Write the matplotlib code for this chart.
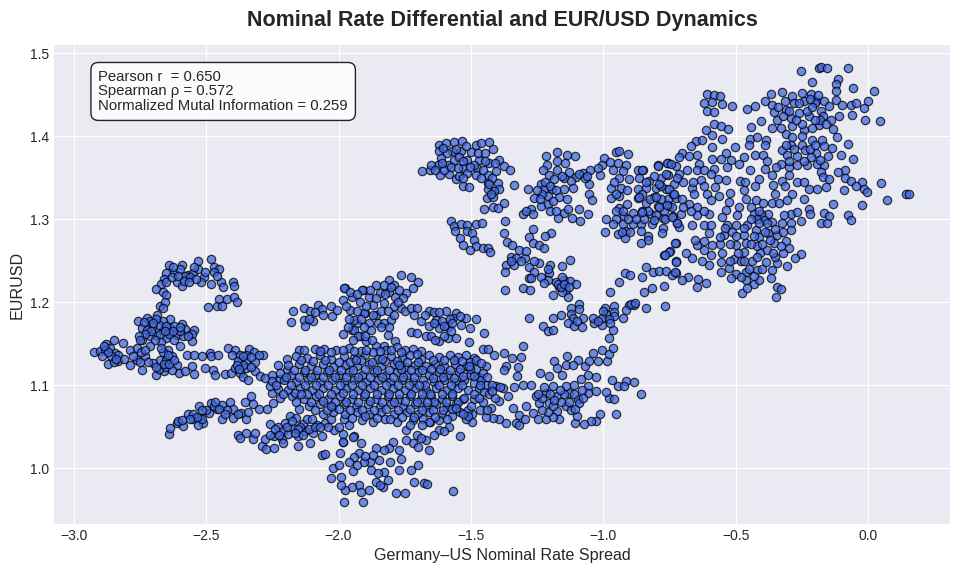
import matplotlib
matplotlib.use("Agg")
import matplotlib.pyplot as plt

# values, grouped by visible cluster: (spread, eurusd)
top_arc = [(-2.64,1.245),(-2.59,1.245),(-2.53,1.25),(-2.48,1.252),(-2.65,1.235),(-2.62,1.235),(-2.60,1.24),(-2.57,1.233),
    (-2.55,1.235),(-2.53,1.24),(-2.51,1.23),(-2.47,1.243),(-2.45,1.24),(-2.47,1.237),(-2.66,1.228),(-2.67,1.222),
    (-2.69,1.216),(-2.665,1.212),(-2.65,1.209),(-2.65,1.224),(-2.61,1.225),(-2.59,1.22),(-2.52,1.225),(-2.48,1.222),
    (-2.445,1.225),(-2.435,1.218),(-2.40,1.225),(-2.395,1.22),(-2.58,1.232),(-2.56,1.23),(-2.63,1.23),(-2.605,1.232),
    (-2.585,1.226),(-2.54,1.228),(-2.565,1.224),(-2.505,1.236),(-2.46,1.232),(-2.625,1.242),(-2.545,1.242),
    (-2.494,1.194),(-2.458,1.195),(-2.45,1.204),(-2.44,1.196),(-2.42,1.204),(-2.394,1.207),(-2.384,1.201)]
west_upper = [(-2.673,1.195),(-2.655,1.2),(-2.662,1.193),(-2.684,1.185),(-2.757,1.178),(-2.725,1.181),(-2.713,1.177),
    (-2.637,1.18),(-2.662,1.177),(-2.593,1.174),(-2.744,1.169),(-2.725,1.167),(-2.70,1.171),(-2.662,1.167),(-2.637,1.169),
    (-2.612,1.161),(-2.58,1.168),(-2.545,1.167),(-2.555,1.162),(-2.587,1.159),(-2.555,1.154),(-2.65,1.157),(-2.688,1.161),
    (-2.713,1.159),(-2.744,1.155),(-2.68,1.173),(-2.62,1.172),(-2.64,1.162),(-2.67,1.152),(-2.71,1.166),(-2.60,1.165),
    (-2.735,1.176),(-2.69,1.18),(-2.65,1.172),(-2.625,1.165),(-2.675,1.162),(-2.695,1.155),(-2.73,1.162),(-2.6,1.17),
    (-2.57,1.16),(-2.62,1.155),(-2.655,1.165),(-2.7,1.175),(-2.755,1.16)]
west_lower = [(-2.923,1.14),(-2.902,1.141),(-2.879,1.15),(-2.849,1.155),(-2.814,1.151),(-2.883,1.143),(-2.864,1.145),
    (-2.845,1.139),(-2.832,1.137),(-2.87,1.126),(-2.832,1.129),(-2.788,1.143),(-2.788,1.124),(-2.763,1.145),(-2.75,1.155),
    (-2.744,1.119),(-2.732,1.135),(-2.763,1.13),(-2.713,1.147),(-2.688,1.113),(-2.66,1.117),(-2.644,1.143),(-2.675,1.131),
    (-2.70,1.127),(-2.65,1.131),(-2.612,1.124),(-2.6,1.148),(-2.602,1.115),(-2.58,1.117),(-2.545,1.114),(-2.555,1.123),
    (-2.895,1.135),(-2.86,1.135),(-2.85,1.128),(-2.81,1.132),(-2.775,1.135),(-2.745,1.14),(-2.72,1.128),(-2.68,1.12),
    (-2.65,1.122),(-2.63,1.135),(-2.665,1.14),(-2.63,1.118),(-2.87,1.14),(-2.84,1.132),(-2.75,1.128),(-2.73,1.143),
    (-2.69,1.122),(-2.66,1.126),(-2.64,1.126),(-2.62,1.13),(-2.67,1.145),(-2.645,1.136),(-2.885,1.148),
    (-2.572,1.136),(-2.547,1.137),(-2.515,1.135),(-2.486,1.139),(-2.482,1.135),(-2.455,1.136),(-2.505,1.121),(-2.474,1.118),
    (-2.467,1.113),(-2.43,1.114),(-2.407,1.115)]
west_patch = [(-2.417,1.145),(-2.392,1.143),(-2.338,1.144),(-2.32,1.14),(-2.285,1.137),(-2.30,1.136),(-2.404,1.137),
    (-2.373,1.137),(-2.348,1.137),(-2.379,1.129),(-2.348,1.129),(-2.316,1.128),(-2.393,1.121),(-2.348,1.121),(-2.373,1.115),
    (-2.36,1.11),(-2.341,1.107),(-2.316,1.117),(-2.297,1.111),(-2.278,1.109),(-2.36,1.125),(-2.33,1.122),(-2.36,1.135),
    (-2.385,1.125),(-2.33,1.134),(-2.375,1.12),(-2.25,1.112),(-2.22,1.108)]
south_band = [(-2.641,1.041),(-2.635,1.049),(-2.612,1.055),(-2.587,1.051),(-2.606,1.057),(-2.568,1.065),(-2.549,1.059),
    (-2.524,1.061),(-2.511,1.055),(-2.526,1.075),(-2.49,1.067),(-2.482,1.079),(-2.442,1.076),(-2.41,1.08),(-2.442,1.06),
    (-2.4,1.061),(-2.40,1.071),(-2.348,1.06),(-2.367,1.067),(-2.342,1.068),(-2.354,1.08),(-2.329,1.087),(-2.322,1.077),
    (-2.3,1.071),(-2.272,1.072),(-2.46,1.071),(-2.55,1.066),(-2.59,1.058),(-2.53,1.052),(-2.47,1.075),(-2.42,1.07),
    (-2.516,1.06),(-2.465,1.08),(-2.38,1.065),(-2.535,1.062),(-2.5,1.07),(-2.515,1.07),(-2.45,1.072),(-2.43,1.066),(-2.56,1.06)]
south_patch = [(-2.379,1.04),(-2.351,1.043),(-2.373,1.036),(-2.322,1.035),(-2.314,1.043),(-2.291,1.027),(-2.275,1.023),
    (-2.244,1.024),(-2.278,1.035),(-2.244,1.039),(-2.215,1.035),(-2.209,1.031),(-2.259,1.053),(-2.228,1.05),(-2.203,1.055),
    (-2.184,1.063),(-2.159,1.061),(-2.171,1.049),(-2.152,1.039),(-2.127,1.045),(-2.096,1.043),(-2.108,1.031),(-2.155,1.027),
    (-2.064,1.039),(-2.08,1.052),(-2.016,1.046),(-1.985,1.041),(-1.985,1.032),(-1.94,1.039),(-2.064,1.016),(-2.05,1.017),
    (-1.995,1.018),(-2.134,1.053),(-2.12,1.059),(-2.21,1.045),(-2.19,1.042),(-2.26,1.04),(-2.145,1.05),(-2.11,1.048),
    (-2.10,1.06),(-2.05,1.055),(-2.03,1.06),(-1.96,1.052),(-2.195,1.05),(-2.175,1.057),(-2.24,1.047),(-2.155,1.047),
    (-2.135,1.04),(-2.165,1.043),(-2.09,1.05),(-2.225,1.04),(-2.07,1.05),(-2.04,1.05),(-2.0,1.05),(-1.98,1.06)]
north_mid = [(-2.171,1.19),(-2.18,1.176),(-2.131,1.193),(-2.131,1.179),(-2.125,1.172),(-2.108,1.189),(-2.077,1.197),
    (-2.064,1.192),(-2.096,1.178),(-2.029,1.196),(-2.026,1.184),(-2.005,1.191),(-1.975,1.217),(-1.982,1.203),(-1.95,1.207),
    (-1.906,1.215),(-1.9,1.187),(-1.957,1.191),(-1.93,1.175),(-1.982,1.162),(-1.95,1.167),(-1.918,1.159),(-2.09,1.188),
    (-1.764,1.233),(-1.726,1.23),(-1.701,1.225),(-1.718,1.217),(-1.809,1.227),(-1.859,1.221),(-1.827,1.221),(-1.789,1.221),
    (-1.745,1.211),(-1.911,1.215),(-1.98,1.217),(-1.886,1.207),(-1.842,1.211),(-1.786,1.207),(-1.829,1.199),(-1.764,1.193),
    (-1.871,1.197),(-1.902,1.187),(-1.94,1.179),(-1.859,1.185),(-1.802,1.179),(-1.886,1.175),(-1.94,1.167),(-1.925,1.159),
    (-1.878,1.167),(-1.812,1.161),(-1.785,1.153),(-1.859,1.147),(-1.827,1.148),(-1.897,1.153),(-1.92,1.2),(-1.88,1.215),
    (-1.81,1.212),(-1.79,1.195),(-1.84,1.19),(-1.77,1.215),(-1.93,1.19),(-1.96,1.18),(-1.905,1.17),(-1.85,1.175),
    (-1.755,1.205),(-1.75,1.19),(-1.83,1.175),(-1.955,1.213),(-1.93,1.21),(-1.895,1.195),(-1.86,1.205),(-1.825,1.21),
    (-1.8,1.218),(-1.775,1.2),(-1.815,1.19),(-1.97,1.195),(-1.965,1.17),(-1.915,1.18),(-1.87,1.185),(-1.84,1.17),
    (-1.9,1.16),(-1.945,1.155),(-1.875,1.155),(-1.81,1.17),(-1.79,1.185),(-2.11,1.18),(-2.06,1.185)]
north_east = [(-1.727,1.193),(-1.702,1.193),(-1.657,1.189),(-1.594,1.189),(-1.557,1.187),(-1.715,1.185),(-1.69,1.177),
    (-1.632,1.179),(-1.569,1.181),(-1.519,1.181),(-1.479,1.18),(-1.538,1.173),(-1.503,1.169),(-1.45,1.163),(-1.62,1.169),
    (-1.588,1.17),(-1.727,1.164),(-1.702,1.163),(-1.67,1.159),(-1.62,1.153),(-1.588,1.157),(-1.557,1.157),(-1.506,1.152),
    (-1.657,1.171),(-1.64,1.188),(-1.61,1.178),(-1.58,1.18),(-1.65,1.16),(-1.60,1.16),(-1.675,1.185),(-1.62,1.188),
    (-1.6,1.172),(-1.64,1.175),(-1.575,1.165),(-1.635,1.155),(-1.54,1.183),(-1.57,1.175)]
core_rows = [(-2.228,1.124),(-2.193,1.132),(-2.193,1.119),(-2.149,1.142),(-2.089,1.144),(-2.054,1.144),(-2.253,1.091),
    (-2.247,1.079),(-2.26,1.099),(-2.149,1.071),(-2.01,1.143),(-1.96,1.145),(-1.915,1.141),(-1.87,1.14),(-1.82,1.143),
    (-1.78,1.146),(-1.75,1.142),(-1.72,1.144),(-1.69,1.141),
    (-2.16,1.135),(-2.12,1.133),(-2.07,1.136),(-2.03,1.132),(-1.98,1.135),(-1.94,1.133),(-1.90,1.136),(-1.85,1.132),
    (-1.80,1.135),(-1.76,1.133),(-1.73,1.136),(-1.69,1.132),(-1.66,1.137),(-1.62,1.134),(-1.58,1.137),(-1.55,1.134),
    (-1.52,1.136),(-1.49,1.133),
    (-2.19,1.124),(-2.15,1.126),(-2.105,1.123),(-2.06,1.126),(-2.02,1.122),(-1.975,1.125),(-1.93,1.123),(-1.885,1.126),
    (-1.84,1.123),(-1.79,1.126),(-1.75,1.122),(-1.71,1.125),(-1.67,1.123),(-1.635,1.126),(-1.60,1.123),(-1.56,1.126),
    (-1.52,1.123),(-1.48,1.12),
    (-2.22,1.115),(-2.18,1.113),(-2.13,1.116),(-2.09,1.113),(-2.045,1.116),(-2.0,1.113),(-1.96,1.116),(-1.91,1.113),
    (-1.865,1.116),(-1.82,1.113),(-1.78,1.116),(-1.74,1.113),(-1.70,1.116),(-1.66,1.113),(-1.62,1.116),(-1.585,1.113),
    (-1.545,1.116),(-1.505,1.113),(-1.47,1.11),
    (-2.25,1.105),(-2.205,1.107),(-2.16,1.104),(-2.115,1.107),(-2.07,1.104),(-2.025,1.107),(-1.98,1.104),(-1.94,1.107),
    (-1.895,1.104),(-1.85,1.107),(-1.805,1.104),(-1.76,1.107),(-1.72,1.104),(-1.68,1.107),(-1.64,1.104),(-1.60,1.107),
    (-1.56,1.104),(-1.525,1.107),(-1.49,1.103),(-1.46,1.106),
    (-2.23,1.096),(-2.19,1.094),(-2.145,1.097),(-2.10,1.094),(-2.06,1.097),(-2.015,1.094),(-1.97,1.097),(-1.925,1.094),
    (-1.88,1.097),(-1.84,1.094),(-1.795,1.097),(-1.75,1.094),(-1.71,1.097),(-1.67,1.094),(-1.63,1.097),(-1.59,1.094),
    (-1.55,1.097),(-1.51,1.094),(-1.47,1.097),
    (-2.22,1.085),(-2.175,1.087),(-2.13,1.084),(-2.085,1.087),(-2.04,1.084),(-1.995,1.087),(-1.95,1.084),(-1.905,1.087),
    (-1.86,1.084),(-1.815,1.087),(-1.77,1.084),(-1.73,1.087),(-1.69,1.084),(-1.65,1.087),(-1.61,1.084),(-1.57,1.087),
    (-1.53,1.084),
    (-2.11,1.075),(-2.07,1.077),(-2.025,1.074),(-1.98,1.077),(-1.935,1.074),(-1.89,1.077),(-1.845,1.074),(-1.80,1.077),
    (-1.755,1.074),(-1.71,1.077),(-1.67,1.074),(-1.63,1.077),(-1.59,1.074),(-1.555,1.077),
    (-2.06,1.066),(-2.02,1.068),(-1.975,1.065),(-1.93,1.068),(-1.885,1.065),(-1.84,1.068),(-1.79,1.065),(-1.74,1.068),
    (-1.70,1.065),(-1.66,1.068),(-1.61,1.066),(-1.57,1.063),(-1.54,1.068),
    (-1.91,1.058),(-1.87,1.056),(-1.825,1.059),(-1.78,1.056),(-1.72,1.058),(-1.655,1.056),(-1.62,1.058)]
core_fill = [(-2.13,1.142),(-2.07,1.141),(-2.03,1.14),(-1.985,1.143),(-1.94,1.141),(-1.895,1.143),(-1.845,1.141),(-1.8,1.142),
    (-1.765,1.14),(-1.705,1.138),(-1.645,1.131),(-1.6,1.13),(-1.565,1.13),(-1.535,1.129),(-1.505,1.128),
    (-2.14,1.13),(-2.095,1.129),(-2.05,1.13),(-2.0,1.128),(-1.955,1.128),(-1.915,1.13),(-1.875,1.128),(-1.825,1.129),
    (-1.78,1.129),(-1.74,1.128),(-1.7,1.128),(-1.65,1.12),(-1.615,1.12),(-1.58,1.118),(-1.54,1.12),(-1.505,1.12),
    (-2.17,1.118),(-2.125,1.119),(-2.08,1.118),(-2.035,1.119),(-1.99,1.119),(-1.945,1.118),(-1.9,1.12),(-1.855,1.119),
    (-1.81,1.118),(-1.765,1.12),(-1.725,1.118),(-1.685,1.119),(-1.645,1.109),(-1.605,1.11),(-1.565,1.109),(-1.53,1.111),
    (-2.2,1.11),(-2.15,1.11),(-2.105,1.11),(-2.06,1.11),(-2.015,1.11),(-1.97,1.11),(-1.925,1.11),(-1.88,1.11),
    (-1.835,1.11),(-1.795,1.11),(-1.755,1.11),(-1.715,1.11),(-1.675,1.1),(-1.62,1.1),(-1.575,1.1),(-1.535,1.1),
    (-2.235,1.101),(-2.18,1.1),(-2.125,1.101),(-2.085,1.1),(-2.04,1.101),(-1.995,1.1),(-1.95,1.1),(-1.91,1.1),
    (-1.865,1.101),(-1.82,1.1),(-1.775,1.1),(-1.735,1.1),(-1.695,1.1),(-1.655,1.09),(-1.61,1.09),(-1.57,1.09),
    (-2.21,1.09),(-2.165,1.091),(-2.12,1.09),(-2.075,1.09),(-2.03,1.09),(-1.985,1.091),(-1.945,1.09),(-1.9,1.09),
    (-1.855,1.09),(-1.81,1.09),(-1.77,1.09),(-1.725,1.09),(-1.685,1.09),(-1.64,1.08),(-1.595,1.08),(-1.55,1.08),
    (-2.16,1.08),(-2.105,1.08),(-2.06,1.081),(-2.015,1.08),(-1.97,1.08),(-1.925,1.08),(-1.88,1.081),(-1.835,1.08),
    (-1.79,1.08),(-1.75,1.081),(-1.705,1.08),(-1.665,1.08),(-1.645,1.07),(-1.605,1.07),(-1.57,1.071),
    (-2.09,1.07),(-2.045,1.07),(-2.0,1.071),(-1.955,1.07),(-1.91,1.07),(-1.865,1.07),(-1.82,1.071),(-1.775,1.07),
    (-1.73,1.071),(-1.685,1.07),(-1.95,1.061),(-1.9,1.063),(-1.855,1.061),(-1.805,1.06),(-1.76,1.062),(-1.715,1.062),
    (-1.68,1.06),(-1.635,1.062),(-1.59,1.06),(-2.03,1.075),(-2.14,1.09),(-1.935,1.13),(-1.835,1.132),(-1.77,1.125)]
core_east = [(-1.456,1.144),(-1.437,1.144),(-1.414,1.136),(-1.374,1.139),(-1.346,1.133),(-1.368,1.123),(-1.374,1.118),
    (-1.302,1.147),(-1.311,1.134),(-1.321,1.122),(-1.324,1.111),(-1.336,1.098),(-1.305,1.1),(-1.273,1.101),(-1.238,1.115),
    (-1.204,1.111),(-1.185,1.129),(-1.176,1.121),(-1.137,1.135),(-1.141,1.124),(-1.097,1.131),(-1.116,1.124),(-1.069,1.123),
    (-1.053,1.129),(-1.04,1.139),(-1.006,1.143),(-0.984,1.129),(-0.977,1.138),(-0.965,1.145),(-1.021,1.129),(-1.154,1.113),
    (-1.084,1.108),(-1.057,1.112),(-1.028,1.11),(-0.968,1.107),(-0.914,1.105),(-0.883,1.104),(-0.858,1.09),(-0.952,1.065),
    (-0.977,1.085),(-0.958,1.084),(-0.99,1.092),(-0.946,1.099),(-0.92,1.099),(-1.011,1.066),(-1.028,1.057),(-1.047,1.057),
    (-1.072,1.054),(-1.107,1.055),(-1.1,1.063),(-1.254,1.087),(-1.217,1.091),(-1.191,1.099),(-1.173,1.087),(-1.128,1.091),
    (-1.097,1.083),(-1.059,1.099),(-1.059,1.091),(-1.267,1.067),(-1.242,1.079),(-1.204,1.079),(-1.173,1.069),(-1.141,1.075),
    (-1.09,1.079),(-1.141,1.099),(-1.028,1.093),(-1.248,1.06),(-1.217,1.059),(-1.167,1.06),(-1.19,1.062),(-1.292,1.075),
    (-1.342,1.073),(-1.317,1.064),(-1.33,1.055),(-1.32,1.052),(-1.295,1.059),(-1.368,1.055),(-1.393,1.059),(-1.418,1.061),
    (-1.443,1.062),(-1.496,1.056),(-1.519,1.059),(-1.494,1.065),(-1.557,1.073),(-1.525,1.085),(-1.487,1.083),(-1.443,1.101),
    (-1.406,1.099),(-1.38,1.097),(-1.361,1.087),(-1.393,1.081),(-1.45,1.092),(-1.424,1.073),(-1.487,1.111),(-1.443,1.123),
    (-1.481,1.131),(-1.456,1.115),(-1.506,1.123),(-1.23,1.085),(-1.16,1.08),(-1.12,1.07),(-1.15,1.09),(-1.08,1.095),
    (-1.21,1.068),(-1.225,1.098),(-1.11,1.1),(-1.42,1.1),(-1.465,1.07),(-1.51,1.07),(-1.23,1.07),(-1.19,1.075),
    (-1.13,1.08),(-1.11,1.09),(-1.075,1.085),(-1.2,1.09),(-1.165,1.095),(-1.105,1.072),(-1.185,1.082),(-1.245,1.09),
    (-1.465,1.1),(-1.455,1.08),(-1.43,1.09),(-1.41,1.085),(-1.49,1.09),(-1.47,1.085),(-1.5,1.075),(-1.44,1.11),
    (-1.46,1.127),(-1.42,1.093),(-1.51,1.063),(-1.53,1.065),(-1.39,1.098),(-1.44,1.07)]
south_low = [(-1.54,1.039),(-1.582,1.05),(-1.62,1.046),(-1.657,1.022),(-1.659,1.056),(-1.683,1.052),(-1.702,1.04),(-1.67,1.034),
    (-1.718,1.03),(-1.698,1.026),(-1.746,1.046),(-1.746,1.034),(-1.796,1.032),(-1.771,1.022),(-1.809,1.024),(-1.859,1.024),
    (-1.827,1.022),(-1.916,1.03),(-1.947,1.038),(-1.985,1.032),(-1.764,1.011),(-1.806,1.008),(-1.846,1.01),(-1.882,1.008),
    (-1.922,1.018),(-1.941,1.014),(-1.962,1.008),(-1.903,1.008),(-1.947,0.997),(-1.878,0.998),(-1.827,0.996),(-1.771,0.998),
    (-1.701,1.004),(-1.727,0.998),(-1.714,0.984),(-1.815,0.986),(-1.859,0.984),(-1.884,0.974),(-1.922,0.98),(-1.95,0.978),
    (-1.975,0.974),(-1.916,0.972),(-1.831,0.977),(-1.842,0.98),(-1.783,0.97),(-1.749,0.97),(-1.676,0.982),(-1.667,0.981),
    (-1.569,0.973),(-1.907,0.96),(-1.979,0.959),(-1.99,0.99),(-1.99,0.98),(-2.029,0.988),(-2.02,1.001),(-1.997,1.004),
    (-1.6,1.045),(-1.64,1.04),(-1.73,1.052),(-1.69,1.036),(-1.85,0.995),(-1.87,1.016),(-1.9,1.015),(-1.93,1.004)]
upper_mid = [(-1.685,1.358),(-1.655,1.36),(-1.622,1.389),(-1.594,1.392),(-1.563,1.393),(-1.535,1.394),(-1.62,1.382),(-1.572,1.382),
    (-1.538,1.382),(-1.481,1.389),(-1.462,1.392),(-1.431,1.393),(-1.415,1.385),(-1.5,1.381),(-1.613,1.374),(-1.563,1.372),
    (-1.513,1.372),(-1.469,1.372),(-1.393,1.372),(-1.626,1.366),(-1.588,1.366),(-1.531,1.362),(-1.477,1.362),(-1.431,1.368),
    (-1.374,1.364),(-1.353,1.359),(-1.617,1.353),(-1.582,1.355),(-1.557,1.349),(-1.544,1.352),(-1.513,1.356),(-1.481,1.353),
    (-1.437,1.354),(-1.406,1.358),(-1.529,1.34),(-1.506,1.339),(-1.437,1.344),(-1.399,1.344),(-1.393,1.337),(-1.437,1.337),
    (-1.412,1.334),(-1.339,1.341),(-1.441,1.326),(-1.415,1.327),(-1.374,1.32),(-1.45,1.313),(-1.415,1.315),(-1.397,1.314),
    (-1.59,1.38),(-1.545,1.375),(-1.49,1.365),(-1.65,1.365),(-1.6,1.36),(-1.455,1.36),(-1.42,1.35),(-1.425,1.33),
    (-1.605,1.386),(-1.555,1.385),(-1.52,1.388),(-1.475,1.38),(-1.445,1.38),(-1.575,1.363),(-1.55,1.362),(-1.505,1.363),
    (-1.46,1.35),(-1.53,1.35),(-1.635,1.36),(-1.61,1.368),(-1.53,1.37),(-1.445,1.37),(-1.41,1.368),(-1.43,1.342),
    (-1.576,1.298),(-1.563,1.292),(-1.538,1.294),(-1.513,1.293),(-1.479,1.294),(-1.458,1.296),(-1.56,1.286),(-1.513,1.286),
    (-1.494,1.284),(-1.54,1.278),(-1.488,1.275),(-1.531,1.269),(-1.481,1.268),(-1.504,1.263),(-1.456,1.266),(-1.437,1.265),
    (-1.427,1.261)]
star_patch = [(-1.372,1.298),(-1.375,1.283),(-1.365,1.273),(-1.346,1.269),(-1.267,1.288),(-1.282,1.279),(-1.198,1.284),(-1.219,1.28),
    (-1.267,1.271),(-1.242,1.269),(-1.223,1.265),(-1.317,1.263),(-1.295,1.253),(-1.349,1.255),(-1.33,1.253),(-1.368,1.245),
    (-1.336,1.245),(-1.372,1.237),(-1.28,1.243),(-1.242,1.247),(-1.202,1.245),(-1.261,1.237),(-1.236,1.231),(-1.204,1.235),
    (-1.208,1.227),(-1.154,1.244),(-1.126,1.251),(-1.282,1.229),(-1.273,1.229),(-1.223,1.223),(-1.179,1.225),(-1.147,1.227),
    (-1.126,1.226),(-1.103,1.222),(-1.166,1.219),(-1.141,1.215),(-1.189,1.209),(-1.135,1.207),(-1.372,1.215),(-1.305,1.217),
    (-1.277,1.215),(-1.154,1.213),(-1.17,1.222),(-1.155,1.23),(-1.31,1.25),(-1.29,1.262),(-1.26,1.25),(-1.35,1.25),
    (-1.21,1.24),(-1.16,1.218),(-1.15,1.222),(-1.13,1.218)]
upper_patch = [(-1.217,1.376),(-1.175,1.381),(-1.137,1.378),(-1.107,1.376),(-1.214,1.366),(-1.175,1.37),(-1.145,1.368),(-1.227,1.36),
    (-1.173,1.359),(-1.128,1.357),(-1.204,1.354),(-1.147,1.35),(-1.103,1.351),(-1.078,1.356),(-1.05,1.359),(-1.013,1.354),
    (-1.053,1.343),(-1.185,1.348),(-1.122,1.346),(-1.236,1.343),(-1.283,1.336),(-1.224,1.336),(-1.192,1.336),(-1.147,1.337),
    (-1.116,1.338),(-1.261,1.326),(-1.21,1.328),(-1.166,1.327),(-1.137,1.324),(-1.053,1.33),(-1.043,1.323),(-1.236,1.316),
    (-1.208,1.318),(-1.273,1.312),(-1.305,1.307),(-1.292,1.31),(-1.264,1.306),(-1.147,1.308),(-1.132,1.312),(-1.091,1.312),
    (-1.118,1.302),(-1.087,1.298),(-1.057,1.306),(-1.17,1.302),(-1.23,1.33),(-1.19,1.322),(-1.09,1.355),(-1.07,1.35),
    (-1.24,1.325),(-1.22,1.345),(-1.2,1.34),(-1.18,1.335),(-1.25,1.335),(-1.2,1.31),(-1.18,1.31),(-1.155,1.352),(-1.06,1.352),
    (-0.999,1.374),(-0.952,1.381),(-0.94,1.382),(-0.908,1.379),(-1.005,1.366),(-0.975,1.369),(-0.946,1.368),(-0.914,1.366),
    (-1.019,1.362),(-0.965,1.359),(-0.924,1.358),(-0.87,1.36),(-0.851,1.359),(-0.792,1.365),(-0.757,1.368),(-0.94,1.35),
    (-0.902,1.348),(-0.864,1.35),(-0.826,1.346),(-0.782,1.35),(-0.757,1.354),(-0.725,1.364),(-0.969,1.338),(-0.933,1.338),
    (-0.87,1.336),(-0.839,1.338),(-0.801,1.338),(-0.763,1.336),(-0.731,1.342),(-0.971,1.326),(-0.94,1.328),(-0.909,1.318),
    (-0.87,1.326),(-0.807,1.327),(-0.757,1.324),(-0.94,1.314),(-0.854,1.31),(-0.795,1.316),(-0.751,1.316),(-0.725,1.326),
    (-0.99,1.3),(-0.952,1.3),(-0.92,1.304),(-0.889,1.308),(-0.82,1.306),(-0.776,1.302),(-0.738,1.304),(-0.994,1.285),
    (-0.965,1.294),(-0.927,1.294),(-0.889,1.294),(-0.858,1.294),(-0.814,1.294),(-0.776,1.289),(-0.72,1.295),(-0.946,1.282),
    (-0.914,1.286),(-0.917,1.278),(-0.858,1.286),(-0.83,1.28),(-0.84,1.32),(-0.91,1.335),(-0.95,1.31),(-0.93,1.285),
    (-0.905,1.3),(-0.875,1.3),(-0.845,1.3),(-0.83,1.31),(-0.8,1.305),(-0.78,1.325),(-0.825,1.325),(-0.855,1.33),(-0.78,1.34),
    (-0.96,1.345),(-0.95,1.33),(-0.925,1.31),(-0.9,1.285),(-0.77,1.31),(-0.74,1.315),(-0.735,1.33)]
lower_east = [(-0.973,1.213),(-0.941,1.224),(-0.919,1.235),(-0.898,1.233),(-0.854,1.231),(-0.839,1.243),(-0.811,1.237),(-0.789,1.238),
    (-0.763,1.238),(-0.725,1.235),(-0.845,1.212),(-0.816,1.217),(-0.772,1.22),(-0.769,1.257),(-0.747,1.262),(-0.725,1.272),
    (-0.725,1.25),(-0.994,1.193),(-0.959,1.195),(-0.902,1.197),(-0.883,1.197),(-0.839,1.193),(-0.766,1.196),(-1.091,1.198),
    (-1.122,1.193),(-1.191,1.181),(-1.16,1.185),(-1.122,1.186),(-1.091,1.192),(-1.116,1.181),(-1.078,1.181),(-1.229,1.172),
    (-1.209,1.165),(-1.191,1.167),(-1.135,1.175),(-1.11,1.171),(-1.082,1.17),(-1.034,1.175),(-1.003,1.173),(-0.99,1.186),
    (-0.958,1.188),(-1.04,1.181),(-1.003,1.181),(-0.958,1.183),(-0.927,1.181),(-0.914,1.191),(-0.895,1.198),(-0.879,1.199),
    (-0.965,1.167),(-0.977,1.157),(-1.28,1.181),(-0.98,1.18),(-1.02,1.178),(-0.975,1.175),(-1.0,1.19),(-1.1,1.178)]
far_east = [(-0.252,1.479),(-0.185,1.482),(-0.179,1.483),(-0.154,1.482),(-0.076,1.482),(-0.113,1.469),(-0.213,1.465),(-0.122,1.463),
    (-0.055,1.458),(0.023,1.454),(-0.607,1.451),(-0.582,1.45),(-0.559,1.448),(-0.62,1.44),(-0.588,1.441),(-0.553,1.439),
    (-0.513,1.437),(-0.607,1.431),(-0.582,1.429),(-0.458,1.433),(-0.428,1.437),(-0.365,1.451),(-0.324,1.453),(-0.39,1.443),
    (-0.361,1.438),(-0.315,1.442),(-0.286,1.448),(-0.248,1.452),(-0.217,1.451),(-0.242,1.442),(-0.198,1.442),(-0.166,1.442),
    (-0.148,1.436),(-0.122,1.454),(-0.12,1.444),(-0.097,1.438),(-0.065,1.438),(-0.046,1.44),(0.001,1.442),(-0.016,1.434),
    (-0.059,1.426),(-0.11,1.424),(-0.013,1.42),(0.045,1.418),(-0.355,1.429),(-0.31,1.432),(-0.261,1.428),(-0.223,1.424),
    (-0.179,1.43),(-0.141,1.42),(-0.405,1.419),(-0.342,1.42),(-0.292,1.422),(-0.185,1.414),(-0.361,1.41),(-0.288,1.412),
    (-0.131,1.409),(-0.242,1.408),(-0.311,1.403),(-0.441,1.411),(-0.116,1.399),(-0.076,1.391),(-0.446,1.397),(-0.421,1.399),
    (-0.387,1.396),(-0.45,1.39),(-0.389,1.39),(-0.286,1.399),(-0.248,1.39),(-0.211,1.396),(-0.173,1.396),(-0.292,1.39),
    (-0.166,1.388),(-0.135,1.386),(-0.324,1.384),(-0.236,1.384),(-0.198,1.38),(-0.305,1.378),(-0.267,1.376),(-0.217,1.375),
    (-0.15,1.376),(-0.103,1.377),(-0.055,1.373),(-0.428,1.377),(-0.397,1.378),(-0.38,1.37),(-0.33,1.367),(-0.298,1.363),
    (-0.267,1.365),(-0.191,1.367),(-0.166,1.365),(-0.349,1.363),(-0.389,1.361),(-0.179,1.357),(-0.087,1.359),(-0.361,1.353),
    (-0.298,1.353),(-0.17,1.351),(-0.148,1.349),(-0.113,1.357),(-0.087,1.35),(-0.412,1.349),(-0.324,1.346),(-0.267,1.345),
    (-0.242,1.345),(-0.063,1.346),(-0.021,1.345),(0.05,1.344),(-0.358,1.341),(-0.315,1.34),(-0.223,1.337),(-0.191,1.337),
    (-0.16,1.339),(-0.047,1.34),(-0.015,1.337),(-0.002,1.333),(-0.091,1.335),(0.142,1.331),(0.155,1.331),(-0.351,1.331),
    (-0.288,1.33),(-0.242,1.325),(0.073,1.323),(-0.305,1.323),(-0.361,1.32),(-0.336,1.32),(-0.131,1.318),(-0.021,1.317),
    (-0.292,1.307),(-0.267,1.309),(-0.223,1.313),(-0.22,1.307),(-0.317,1.305),(-0.254,1.298),(-0.166,1.308),(-0.148,1.304),
    (-0.076,1.305),(-0.063,1.299),(-0.179,1.295),(-0.154,1.295),(-0.2,1.44),(-0.23,1.43),(-0.32,1.425),(-0.28,1.44),
    (-0.25,1.415),(-0.21,1.41),(-0.34,1.435),(-0.17,1.425),(-0.21,1.435),(-0.18,1.42),(-0.26,1.44),(-0.3,1.43),
    (-0.33,1.41),(-0.27,1.42),(-0.2,1.42),(-0.16,1.415),(-0.22,1.445),(-0.19,1.45),(-0.25,1.4),(-0.22,1.385),
    (-0.28,1.385),(-0.2,1.39),(-0.3,1.37),(-0.23,1.365),(-0.18,1.372),(-0.24,1.37),(-0.31,1.39)]
mid_east = [(-0.611,1.408),(-0.582,1.415),(-0.557,1.412),(-0.528,1.409),(-0.649,1.394),(-0.626,1.396),(-0.668,1.388),(-0.588,1.402),
    (-0.553,1.397),(-0.588,1.387),(-0.504,1.387),(-0.538,1.38),(-0.702,1.38),(-0.645,1.378),(-0.588,1.373),(-0.557,1.373),
    (-0.519,1.371),(-0.469,1.375),(-0.487,1.367),(-0.758,1.368),(-0.712,1.375),(-0.676,1.376),(-0.793,1.364),(-0.743,1.367),
    (-0.639,1.367),(-0.582,1.361),(-0.531,1.363),(-0.446,1.359),(-0.853,1.359),(-0.764,1.355),(-0.683,1.359),(-0.645,1.359),
    (-0.592,1.355),(-0.809,1.352),(-0.712,1.355),(-0.632,1.347),(-0.567,1.349),(-0.538,1.347),(-0.485,1.346),(-0.465,1.345),
    (-0.428,1.34),(-0.838,1.345),(-0.79,1.343),(-0.752,1.337),(-0.664,1.338),(-0.578,1.339),(-0.469,1.335),(-0.732,1.331),
    (-0.658,1.33),(-0.607,1.331),(-0.523,1.332),(-0.802,1.327),(-0.702,1.325),(-0.563,1.328),(-0.462,1.325),(-0.424,1.323),
    (-0.865,1.327),(-0.79,1.315),(-0.758,1.317),(-0.676,1.319),(-0.645,1.315),(-0.594,1.323),(-0.525,1.321),(-0.487,1.315),
    (-0.443,1.315),(-0.378,1.307),(-0.403,1.307),(-0.431,1.307),(-0.393,1.299),(-0.361,1.297),(-0.456,1.293),(-0.494,1.305),
    (-0.324,1.295),(-0.292,1.296),(-0.532,1.293),(-0.497,1.293),(-0.424,1.287),(-0.378,1.283),(-0.342,1.281),(-0.292,1.287),
    (-0.512,1.285),(-0.544,1.281),(-0.468,1.281),(-0.412,1.279),(-0.311,1.274),(-0.5,1.269),(-0.462,1.272),(-0.559,1.27),
    (-0.355,1.271),(-0.421,1.268),(-0.298,1.266),(-0.38,1.263),(-0.32,1.26),(-0.254,1.258),(-0.276,1.254),(-0.553,1.259),
    (-0.506,1.252),(-0.468,1.261),(-0.437,1.25),(-0.406,1.259),(-0.387,1.249),(-0.343,1.247),(-0.305,1.244),(-0.557,1.249),
    (-0.601,1.245),(-0.626,1.25),(-0.664,1.253),(-0.689,1.259),(-0.594,1.257),(-0.62,1.263),(-0.588,1.269),(-0.645,1.269),
    (-0.62,1.274),(-0.655,1.275),(-0.559,1.279),(-0.601,1.283),(-0.729,1.272),(-0.752,1.261),(-0.768,1.257),(-0.724,1.249),
    (-0.557,1.237),(-0.525,1.241),(-0.497,1.234),(-0.462,1.237),(-0.418,1.239),(-0.361,1.239),(-0.519,1.229),(-0.462,1.227),
    (-0.431,1.222),(-0.412,1.227),(-0.368,1.229),(-0.475,1.211),(-0.456,1.217),(-0.343,1.218),(-0.33,1.216),(-0.349,1.206),
    (-0.645,1.218),(-0.611,1.223),(-0.641,1.228),(-0.68,1.231),(-0.704,1.227),(-0.739,1.233),(-0.729,1.237),
    (-0.664,1.293),(-0.714,1.291),(-0.723,1.296),(-0.777,1.283),(-0.83,1.275),(-0.859,1.271),(-0.809,1.299),(-0.765,1.301),
    (-0.74,1.303),(-0.708,1.306),(-0.645,1.305),(-0.601,1.307),(-0.62,1.293),(-0.594,1.293),(-0.853,1.309),(-0.535,1.311),
    (-0.55,1.303),(-0.42,1.3),(-0.44,1.27),(-0.39,1.285),(-0.35,1.255),(-0.48,1.25),
    (-0.41,1.295),(-0.44,1.3),(-0.38,1.295),(-0.35,1.288),(-0.32,1.285),(-0.4,1.27),(-0.37,1.275),(-0.43,1.28),
    (-0.47,1.29),(-0.41,1.31),(-0.33,1.268),(-0.36,1.26),(-0.47,1.25),(-0.42,1.255),(-0.49,1.26),(-0.52,1.27),
    (-0.54,1.29),(-0.395,1.32),(-0.5,1.28),(-0.45,1.24),(-0.52,1.25),(-0.4,1.24),(-0.48,1.23),(-0.43,1.232),
    (-0.66,1.345),(-0.7,1.345),(-0.62,1.36),(-0.72,1.35),(-0.62,1.31),(-0.67,1.31),(-0.7,1.315),(-0.62,1.34)]

clusters = [top_arc, west_upper, west_lower, west_patch, south_band, south_patch, north_mid, north_east,
            core_rows, core_fill, core_east, south_low, upper_mid, star_patch, upper_patch, lower_east, far_east, mid_east]
spread = [p[0] for c in clusters for p in c]
eurusd = [p[1] for c in clusters for p in c]

stats_text = "Pearson r  = 0.650\nSpearman ρ = 0.572\nNormalized Mutal Information = 0.259"
x_ticks = [-3.0, -2.5, -2.0, -1.5, -1.0, -0.5, 0.0]
y_ticks = [1.0, 1.1, 1.2, 1.3, 1.4, 1.5]

plt.style.use("seaborn-v0_8-darkgrid")
plt.rcParams["font.family"] = ["Liberation Sans", "DejaVu Sans"]

fig, ax = plt.subplots(figsize=(9.6, 5.72), dpi=100)
fig.subplots_adjust(left=54 / 960, right=950 / 960, top=1 - 45 / 572, bottom=1 - 524 / 572)

ax.scatter(spread, eurusd, s=36, color="royalblue", alpha=0.75, edgecolors="black", linewidths=0.9)
ax.set_xlim(-3.075, 0.31)
ax.set_ylim(0.933, 1.51)
ax.set_xticks(x_ticks)
ax.set_yticks(y_ticks)
ax.tick_params(labelsize=10)
ax.set_xlabel("Germany–US Nominal Rate Spread", fontsize=11.6)
ax.set_ylabel("EURUSD", fontsize=11.6)
ax.set_title("Nominal Rate Differential and EUR/USD Dynamics", fontsize=15.5, fontweight="bold", pad=14)

ax.text(0.0495, 0.948, stats_text, transform=ax.transAxes, fontsize=10.7, va="top", linespacing=1.05,
        bbox=dict(boxstyle="round,pad=0.5", facecolor="white", edgecolor="black", alpha=0.85))

fig.savefig("out.png", dpi=100)
